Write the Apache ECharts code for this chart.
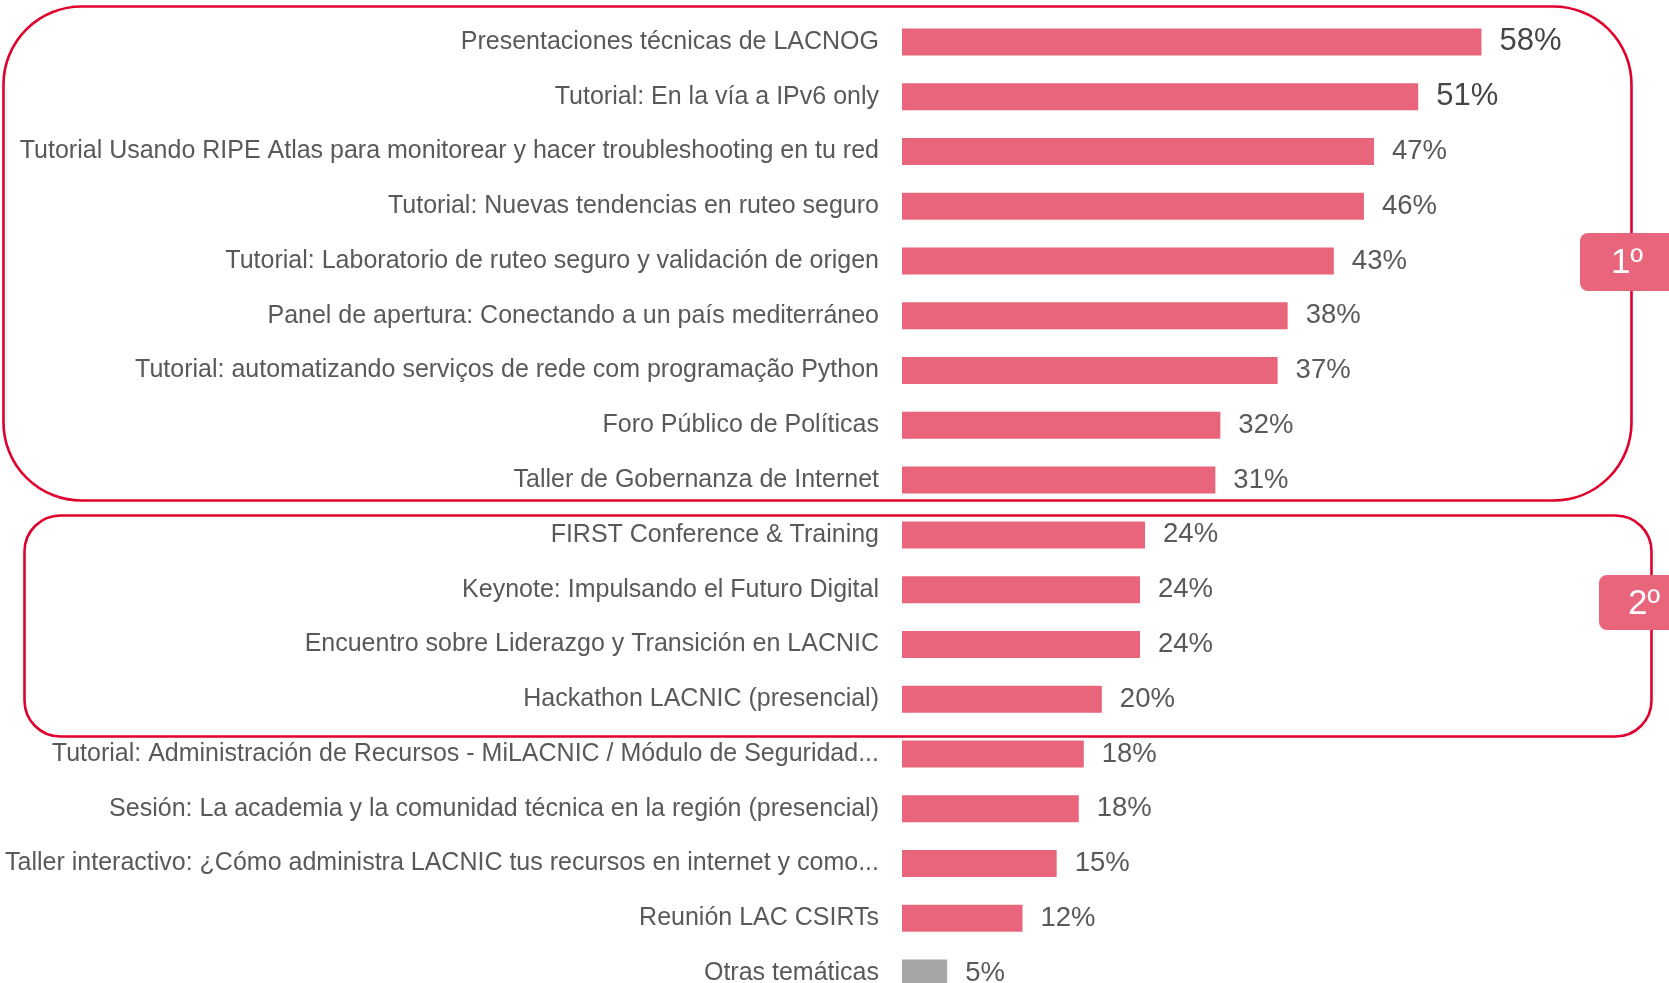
<!DOCTYPE html>
<html>
<head>
<meta charset="utf-8">
<script src="https://cdn.jsdelivr.net/npm/echarts@6/dist/echarts.min.js"></script>
<style>
  html, body { margin: 0; padding: 0; background: #fff; }
  #chart { width: 1669px; height: 983px; }
</style>
</head>
<body>
<div id="chart"></div>
<script>
'use strict'
/*-----data-----*/
var categories = [
	'Presentaciones técnicas de LACNOG',
	'Tutorial: En la vía a IPv6 only',
	'Tutorial Usando RIPE Atlas para monitorear y hacer troubleshooting en tu red',
	'Tutorial: Nuevas tendencias en ruteo seguro',
	'Tutorial: Laboratorio de ruteo seguro y validación de origen',
	'Panel de apertura: Conectando a un país mediterráneo',
	'Tutorial: automatizando serviços de rede com programação Python',
	'Foro Público de Políticas',
	'Taller de Gobernanza de Internet',
	'FIRST Conference & Training',
	'Keynote: Impulsando el Futuro Digital',
	'Encuentro sobre Liderazgo y Transición en LACNIC',
	'Hackathon LACNIC (presencial)',
	'Tutorial: Administración de Recursos - MiLACNIC / Módulo de Seguridad...',
	'Sesión: La academia y la comunidad técnica en la región (presencial)',
	'Taller interactivo: ¿Cómo administra LACNIC tus recursos en internet y como...',
	'Reunión LAC CSIRTs',
	'Otras temáticas'
];
var values = [57.7, 51.4, 47.0, 46.0, 43.0, 38.4, 37.4, 31.7, 31.2, 24.2, 23.7, 23.7, 19.9, 18.1, 17.6, 15.4, 12.0, 4.5];
var otherCategory = 'Otras temáticas';
var rankBadges = ['1º', '2º'];

var pink = '#E8657B';
var grey = '#A6A6A6';
var red = '#E0002D';
var textGrey = '#595959';
var font = 'Liberation Sans, Arial, sans-serif';

var seriesData = values.map(function(v, i) {
	var top = i < 2;
	return {
		value: v,
		itemStyle: { color: categories[i] === otherCategory ? grey : pink },
		label: {
			fontSize: top ? 31 : 27.5,
			color: top ? '#454545' : textGrey
		}
	};
});

var chart = echarts.init(document.getElementById('chart'));
var option = {
	animation: false,
	grid: {
		left: 902,
		top: 14.5,
		width: 703,
		height: 986,
		outerBoundsMode: 'none',
		containLabel: false
	},
	xAxis: {
		type: 'value',
		min: 0,
		max: 70,
		show: false,
		splitLine: { show: false }
	},
	yAxis: {
		type: 'category',
		inverse: true,
		data: categories,
		axisLine: { show: false },
		axisTick: { show: false },
		axisLabel: {
			interval: 0,
			margin: 23,
			fontSize: 25,
			color: textGrey,
			fontFamily: font
		}
	},
	series: [{
		type: 'bar',
		data: seriesData,
		barWidth: 27,
		label: {
			show: true,
			position: 'right',
			distance: 18,
			fontFamily: font,
			formatter: function(p) {
				return Math.round(p.value) + '%';
			}
		}
	}],
	graphic: [{
		type: 'rect',
		shape: { x: 3.5, y: 6.5, width: 1628, height: 494, r: 78 },
		style: { fill: 'none', stroke: red, lineWidth: 2.6 }
	}, {
		type: 'rect',
		shape: { x: 24.5, y: 515.5, width: 1627, height: 221, r: 36 },
		style: { fill: 'none', stroke: red, lineWidth: 2.6 }
	}, {
		type: 'rect',
		shape: { x: 1580, y: 233, width: 100, height: 58, r: 8 },
		style: { fill: pink }
	}, {
		type: 'text',
		x: 1627,
		y: 263,
		style: {
			text: rankBadges[0],
			fill: '#fff',
			fontSize: 35,
			fontFamily: font,
			align: 'center',
			verticalAlign: 'middle'
		}
	}, {
		type: 'rect',
		shape: { x: 1599, y: 575, width: 100, height: 55, r: 8 },
		style: { fill: pink }
	}, {
		type: 'text',
		x: 1644,
		y: 604,
		style: {
			text: rankBadges[1],
			fill: '#fff',
			fontSize: 35,
			fontFamily: font,
			align: 'center',
			verticalAlign: 'middle'
		}
	}]
};
chart.setOption(option);
</script>
</body>
</html>
